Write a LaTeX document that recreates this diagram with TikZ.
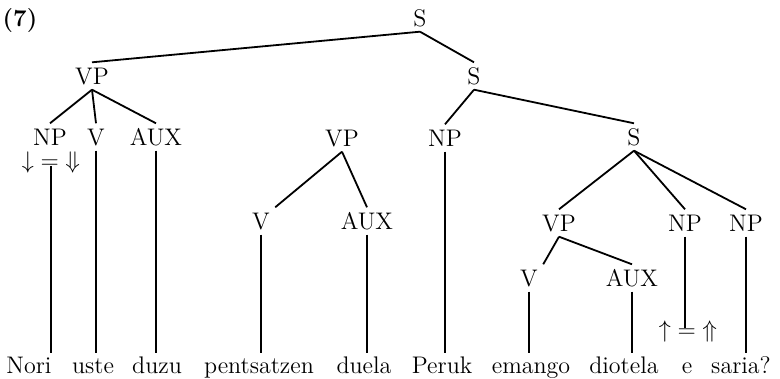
\documentclass[tikz,border=0pt]{standalone}
\usepackage{fontspec}
\usepackage{amsmath, amssymb}
\usepackage{tikz}
\tikzset{
	catlabel/.style={inner sep=2.5pt, text height=8.3pt, text depth=0pt, font=\fontsize{12}{14}\selectfont},
	wordlabel/.style={anchor=base, inner sep=1.5pt, text height=8.5pt, text depth=2.5pt, font=\fontsize{12}{14}\selectfont},
	eqlabel/.style={inner sep=0pt, font=\fontsize{12}{14}\selectfont},
	treeline/.style={line width=0.9pt},
}

\begin{document}
\begin{tikzpicture}[x=0.5pt, y=-0.5pt]
		\useasboundingbox (0,0) rectangle (780,379);

		% Example number
		\node[catlabel, font=\fontsize{12}{14}\selectfont\bfseries] (exnum) at (20,18) {(7)};

		% Categories
		\node[catlabel] (s1) at (420,18) {S};
		\node[catlabel] (vp1) at (92,76) {VP};
		\node[catlabel] (s2) at (474,76) {S};
		\node[catlabel] (np1) at (50,137) {NP};
		\node[catlabel] (v1) at (96,137) {V};
		\node[catlabel] (aux1) at (156,137) {AUX};
		\node[catlabel] (vp2) at (342,138) {VP};
		\node[catlabel] (np2) at (445,138) {NP};
		\node[catlabel] (s3) at (634,137) {S};
		\node[catlabel] (v2) at (261,221) {V};
		\node[catlabel] (aux2) at (367,221) {AUX};
		\node[catlabel] (vp3) at (559,223) {VP};
		\node[catlabel] (np3) at (685,223) {NP};
		\node[catlabel] (np4) at (746,223) {NP};
		\node[catlabel] (v3) at (529,278) {V};
		\node[catlabel] (aux3) at (632,278) {AUX};

		% Equations
		\node[eqlabel] (eqdown) at (51,163) {${\downarrow} = {\Downarrow}$};
		\node[eqlabel] (equp) at (688,331) {${\uparrow} = {\Uparrow}$};

		% Words
		\node[wordlabel] (nori) at (29,373) {Nori};
		\node[wordlabel] (uste) at (93,373) {uste};
		\node[wordlabel] (duzu) at (157,373) {duzu};
		\node[wordlabel] (pents) at (259,373) {pentsatzen};
		\node[wordlabel] (duela) at (364,373) {duela};
		\node[wordlabel] (peruk) at (442,373) {Peruk};
		\node[wordlabel] (emango) at (531,373) {emango};
		\node[wordlabel] (diotela) at (624,373) {diotela};
		\node[wordlabel] (ee) at (687,373) {e};
		\node[wordlabel] (saria) at (741,373) {saria?};

		% Branches
		\draw[treeline] (s1.south) -- (vp1.north);
		\draw[treeline] (s1.south) -- (s2.north);
		\draw[treeline] (vp1.south) -- (np1.north);
		\draw[treeline] (vp1.south) -- (v1.north);
		\draw[treeline] (vp1.south) -- (aux1.north);
		\draw[treeline] (s2.south) -- (np2.north);
		\draw[treeline] (s2.south) -- (s3.north);
		\draw[treeline] (vp2.south) -- (v2.north east);
		\draw[treeline] (vp2.south) -- (aux2.north);
		\draw[treeline] (s3.south) -- (vp3.north);
		\draw[treeline] (s3.south) -- (np3.north);
		\draw[treeline] (s3.south) -- (np4.north);
		\draw[treeline] (vp3.south) -- (v3.north east);
		\draw[treeline] (vp3.south) -- (aux3.north);

		% Lines down to the words
		\draw[treeline, shorten <=1.4pt] (eqdown.center) -- (eqdown.center |- nori.north);
		\draw[treeline] (v1.south) -- (v1.south |- uste.north);
		\draw[treeline] (aux1.south) -- (aux1.south |- duzu.north);
		\draw[treeline] (v2.south) -- (v2.south |- pents.north);
		\draw[treeline] (aux2.south) -- (aux2.south |- duela.north);
		\draw[treeline] (np2.south) -- (np2.south |- peruk.north);
		\draw[treeline] (v3.south) -- (v3.south |- emango.north);
		\draw[treeline] (aux3.south) -- (aux3.south |- diotela.north);
		\draw[treeline, shorten >=1.4pt] (np3.south) -- (np3.south |- equp.center);
		\draw[treeline] (np4.south) -- (np4.south |- saria.north);
	\end{tikzpicture}
\end{document}
